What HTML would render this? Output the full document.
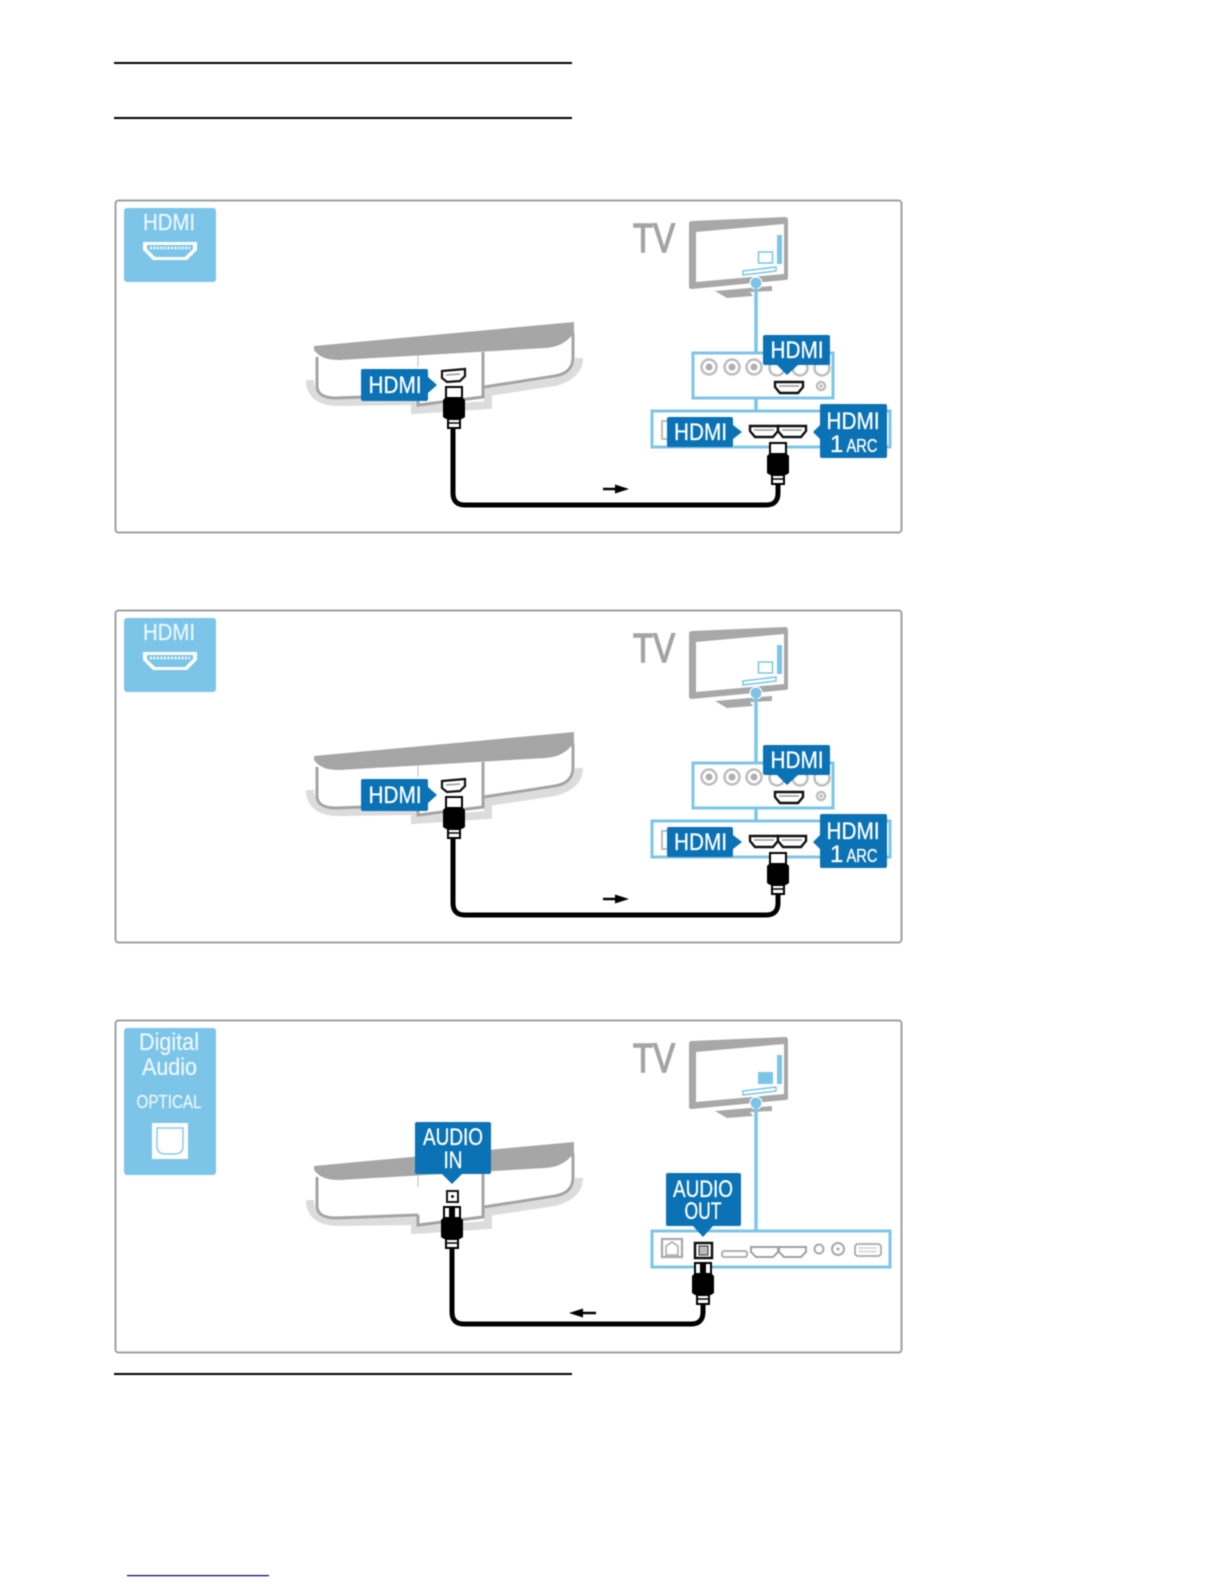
<!DOCTYPE html>
<html><head><meta charset="utf-8"><style>
html,body{margin:0;padding:0;background:#fff;width:1224px;height:1584px;overflow:hidden}
svg{display:block;filter:blur(.6px)}
text{font-family:"Liberation Sans",sans-serif;text-anchor:middle}
.w{fill:#fff;stroke:#fff;stroke-width:.3}.lw{fill:#eef8fd;stroke:#eef8fd;stroke-width:.2}
.tv{fill:#a4a4a4;stroke:#a4a4a4;stroke-width:1.4}
</style></head><body>
<svg width="1224" height="1584" viewBox="0 0 1224 1584" xmlns="http://www.w3.org/2000/svg">
<defs>
<g id="tvbase">
<path d="M689 224Q689 221 692 221L785 217Q788 217 788 220V278Q788 280 785 280L692 289Q689 289 689 287Z" fill="#a8a8a8"/>
<path d="M696 232L784 224V274L696 282Z" fill="#fff"/>
<path d="M715 291L772 286V291L750 292L753 296L727 298Z" fill="#a8a8a8"/>
<rect x="777" y="235" width="5" height="29" fill="#7cc5e9"/>
<path d="M743 271L776 267V271L743 275Z" fill="#fff" stroke="#7cc5e9" stroke-width="1.5"/>
<circle cx="756" cy="283" r="6" fill="#7cc5e9" stroke="#fff" stroke-width="1.2"/>
</g>
<g id="bar">
<path d="M310 380C310 396 322 402 340 402L415 401V410L488 405V392L555 382C570 378 579 370 579 358" fill="none" stroke="#dcdcdc" stroke-width="8"/>
<path d="M317 357V386C317 394 324 398 336 398L418 394V405L483 397V352Z" fill="#fff"/>
<path d="M483 352L573 333V358C573 368 566 374 555 376L484 387Z" fill="#fff"/>
<path d="M317 357V386C317 394 324 398 336 398L418 395M418 395V405L483 397V352M484 387L555 376C566 374 573 368 573 358V333" fill="none" stroke="#a4a4a4" stroke-width="3"/>
<path d="M418 355V367" stroke="#bbb" stroke-width="1" fill="none"/>
<path d="M314 346L574 322V333C566 343 558 347 545 348L340 360C328 360 320 358 314 350Z" fill="#a6a6a6"/>
</g>
<g id="plug">
<rect x="-8" y="0" width="16" height="11" fill="#fff" stroke="#000" stroke-width="2"/>
<path d="M-9 11H9L11 13V30L8 32H-8L-11 30V13Z" fill="#000"/>
<path d="M-6 32H6V41H-6Z" fill="#fff" stroke="#000" stroke-width="2"/>
<path d="M-6 36H6" stroke="#000" stroke-width="1.5"/>
</g>
<g id="port">
<path d="M-1 0H27V5L22 11H4L-1 5Z" fill="#fff" stroke="#111" stroke-width="2.4"/>
<path d="M3 4H23" stroke="#999" stroke-width="1.500"/>
</g>
<g id="hdmiicon">
<path d="M143 242H197V250L187 260H153L143 250Z" fill="#fff"/>
<path d="M147 245H193V249L185 257H155L147 249Z" fill="#7cc5e9"/>
<path d="M150 248H190" stroke="#fff" stroke-width="2.500" stroke-dasharray="2 1.500"/>
</g>
<g id="hdmipanels">
<path d="M756 288V353" stroke="#7cc5e9" stroke-width="3.500"/>
<rect x="693" y="353" width="140" height="45" fill="#fff" stroke="#7cc5e9" stroke-width="3"/>
<g fill="#fff" stroke="#bdbdbd" stroke-width="2.500">
<circle cx="709" cy="367" r="7.500"/><circle cx="732" cy="367" r="7.500"/><circle cx="754" cy="367" r="7.500"/>
<circle cx="777" cy="368" r="7.500"/><circle cx="800" cy="368" r="7.500"/><circle cx="822" cy="368" r="7.500"/>
<circle cx="821" cy="386" r="4"/>
</g>
<g fill="#b0b0b0"><circle cx="709" cy="367" r="3.500"/><circle cx="732" cy="367" r="3.500"/><circle cx="754" cy="367" r="3.500"/><circle cx="821" cy="386" r="1.500"/></g>
<path d="M756 398V411" stroke="#7cc5e9" stroke-width="3.500"/>
<rect x="652" y="411" width="238" height="36" fill="#fff" stroke="#7cc5e9" stroke-width="3"/>
<rect x="662" y="421" width="10" height="18" fill="#fff" stroke="#bdbdbd" stroke-width="2"/>
<use href="#port" x="776" y="382"/>
<use href="#port" x="751" y="426"/><use href="#port" x="779" y="426"/>
<path d="M765 335H828Q830 335 830 337V363Q830 365 828 365H798L787 375L777 365H765Q763 365 763 363V337Q763 335 765 335Z" fill="#0b72b5"/>
<path d="M669 417H731Q733 417 733 419V425L742 432L733 439V445Q733 447 731 447H669Q667 447 667 445V419Q667 417 669 417Z" fill="#0b72b5"/>
<path d="M822 404H885Q887 404 887 406V456Q887 458 885 458H822Q820 458 820 456V439L813 432L820 425V406Q820 404 822 404Z" fill="#0b72b5"/>
<path d="M361 371Q361 369 363 369H426Q428 369 428 371V377L437 385L428 393V399Q428 401 426 401H363Q361 401 361 399Z" fill="#0b72b5"/>
<path d="M442 371L465 369V376L460 381L447 382L442 378Z" fill="#fff" stroke="#111" stroke-width="2.200"/>
<path d="M446 375L460 374" stroke="#999" stroke-width="1.500"/>
<use href="#plug" x="454" y="387"/>
<use href="#plug" x="778" y="443"/>
<path d="M453 429V493Q453 505 465 505H766Q778 505 778 493V485" fill="none" stroke="#000" stroke-width="5"/>
<path d="M603 489H618" stroke="#000" stroke-width="2.500"/><path d="M615 484.500L629 489L615 493.500Z" fill="#000"/>
</g>
</defs>

<rect width="1224" height="1584" fill="#fff"/>
<rect x="114" y="62" width="458" height="2" fill="#000"/>
<rect x="114" y="117" width="458" height="2" fill="#000"/>
<rect x="114" y="1373" width="458" height="2" fill="#000"/>
<rect x="127" y="1575" width="142" height="1.200" fill="#000080"/>

<!-- Panel 1 -->
<rect x="115.500" y="200.500" width="786" height="332" rx="3" fill="#fff" stroke="#a0a0a0" stroke-width="2"/>
<rect x="124" y="208" width="92" height="74" rx="3" fill="#7cc5e9"/>
<text x="169" y="230" font-size="23" class="lw" textLength="52" lengthAdjust="spacingAndGlyphs">HDMI</text>
<use href="#hdmiicon"/>
<text x="654" y="252" font-size="41" class="tv" textLength="42" lengthAdjust="spacingAndGlyphs">TV</text>
<use href="#tvbase"/>
<rect x="758.500" y="252" width="14" height="11" fill="#fff" stroke="#7cc5e9" stroke-width="1.500"/>
<use href="#bar"/>
<use href="#hdmipanels"/>
<text x="395" y="393" font-size="24" class="w" textLength="53" lengthAdjust="spacingAndGlyphs">HDMI</text>
<text x="797" y="358" font-size="24" class="w" textLength="53" lengthAdjust="spacingAndGlyphs">HDMI</text>
<text x="700.500" y="440" font-size="24" class="w" textLength="53" lengthAdjust="spacingAndGlyphs">HDMI</text>
<text x="853" y="429" font-size="24" class="w" textLength="53" lengthAdjust="spacingAndGlyphs">HDMI</text>
<text x="830" y="452" font-size="24" class="w" style="text-anchor:start">1</text>
<text x="862" y="452" font-size="18" class="w" textLength="31" lengthAdjust="spacingAndGlyphs">ARC</text>

<!-- Panel 2 -->
<g transform="translate(0,410)">
<rect x="115.500" y="200.500" width="786" height="332" rx="3" fill="#fff" stroke="#a0a0a0" stroke-width="2"/>
<rect x="124" y="208" width="92" height="74" rx="3" fill="#7cc5e9"/>
<text x="169" y="230" font-size="23" class="lw" textLength="52" lengthAdjust="spacingAndGlyphs">HDMI</text>
<use href="#hdmiicon"/>
<text x="654" y="252" font-size="41" class="tv" textLength="42" lengthAdjust="spacingAndGlyphs">TV</text>
<use href="#tvbase"/>
<rect x="758.500" y="252" width="14" height="11" fill="#fff" stroke="#7cc5e9" stroke-width="1.500"/>
<use href="#bar"/>
<use href="#hdmipanels"/>
<text x="395" y="393" font-size="24" class="w" textLength="53" lengthAdjust="spacingAndGlyphs">HDMI</text>
<text x="797" y="358" font-size="24" class="w" textLength="53" lengthAdjust="spacingAndGlyphs">HDMI</text>
<text x="700.500" y="440" font-size="24" class="w" textLength="53" lengthAdjust="spacingAndGlyphs">HDMI</text>
<text x="853" y="429" font-size="24" class="w" textLength="53" lengthAdjust="spacingAndGlyphs">HDMI</text>
<text x="830" y="452" font-size="24" class="w" style="text-anchor:start">1</text>
<text x="862" y="452" font-size="18" class="w" textLength="31" lengthAdjust="spacingAndGlyphs">ARC</text>
</g>

<!-- Panel 3 -->
<rect x="115.500" y="1020.500" width="786" height="332" rx="3" fill="#fff" stroke="#a0a0a0" stroke-width="2"/>
<rect x="124" y="1028" width="92" height="147" rx="3" fill="#7cc5e9"/>
<text x="169" y="1050" font-size="24" class="lw" textLength="60" lengthAdjust="spacingAndGlyphs">Digital</text>
<text x="169.500" y="1075" font-size="24" class="lw" textLength="55" lengthAdjust="spacingAndGlyphs">Audio</text>
<text x="169" y="1108" font-size="18.500" class="lw" textLength="65" lengthAdjust="spacingAndGlyphs">OPTICAL</text>
<rect x="152" y="1123" width="36" height="36" fill="#fff"/>
<path d="M157 1128H183V1146Q183 1153 176 1154H164Q157 1153 157 1146Z" fill="#fff" stroke="#8ccbeb" stroke-width="1.500"/>
<g transform="translate(0,820)">
<text x="654" y="252" font-size="41" class="tv" textLength="42" lengthAdjust="spacingAndGlyphs">TV</text>
<use href="#tvbase"/>
<rect x="758" y="252" width="15" height="12" fill="#7cc5e9"/>
<use href="#bar"/>
</g>
<path d="M756 1108V1231" stroke="#7cc5e9" stroke-width="3.500"/>
<rect x="652" y="1231" width="238" height="36" fill="#fff" stroke="#7cc5e9" stroke-width="3"/>
<rect x="662" y="1239" width="20" height="18" fill="#fff" stroke="#a8a8a8" stroke-width="2.200"/>
<path d="M666 1255V1246L672 1242L678 1246V1255Z" fill="#fff" stroke="#a8a8a8" stroke-width="1.500"/>
<rect x="695" y="1243" width="17" height="15" fill="#fff" stroke="#111" stroke-width="2.500"/>
<rect x="699" y="1246" width="9" height="9" fill="#bbb" stroke="#333" stroke-width="1"/>
<rect x="722" y="1251" width="25" height="6" rx="2" fill="#fff" stroke="#a8a8a8" stroke-width="1.800"/>
<path d="M751 1247H778V1252L773 1257H756L751 1252Z" fill="#fff" stroke="#a0a0a0" stroke-width="2"/>
<path d="M779 1247H806V1252L801 1257H784L779 1252Z" fill="#fff" stroke="#a0a0a0" stroke-width="2"/>
<circle cx="819" cy="1249" r="4.500" fill="#fff" stroke="#a8a8a8" stroke-width="2"/>
<circle cx="838" cy="1249" r="6" fill="#fff" stroke="#a8a8a8" stroke-width="2"/>
<circle cx="838" cy="1249" r="1.500" fill="#a8a8a8"/>
<rect x="855" y="1244" width="26" height="12" rx="3" fill="#fff" stroke="#a8a8a8" stroke-width="1.800"/>
<path d="M859 1248H877M859 1251.500H877" stroke="#b5b5b5" stroke-width="1.500" stroke-dasharray="1.500 1"/>
<path d="M668 1173H739Q741 1173 741 1175V1224Q741 1226 739 1226H713L703 1237L693 1226H668Q666 1226 666 1224V1175Q666 1173 668 1173Z" fill="#0b72b5"/>
<path d="M417 1122H489Q491 1122 491 1124V1172Q491 1174 489 1174H462L452 1184L442 1174H417Q415 1174 415 1172V1124Q415 1122 417 1122Z" fill="#0b72b5"/>
<rect x="447" y="1191" width="11" height="11" fill="#fff" stroke="#111" stroke-width="2"/>
<circle cx="452.500" cy="1196.500" r="1.500" fill="#111"/>
<use href="#plug" x="452" y="1207"/>
<use href="#plug" x="703" y="1263"/>
<rect x="449" y="1208" width="6" height="9" fill="#000"/>
<rect x="700" y="1264" width="6" height="9" fill="#000"/>
<path d="M452 1249V1312Q452 1324 464 1324H691Q703 1324 703 1312V1304" fill="none" stroke="#000" stroke-width="5"/>
<path d="M596 1313H581" stroke="#000" stroke-width="2.500"/><path d="M583 1308.500L569 1313L583 1317.500Z" fill="#000"/>
<text x="453" y="1145" font-size="24" class="w" textLength="60" lengthAdjust="spacingAndGlyphs">AUDIO</text>
<text x="453" y="1168" font-size="24" class="w" textLength="19" lengthAdjust="spacingAndGlyphs">IN</text>
<text x="703" y="1197" font-size="24" class="w" textLength="60" lengthAdjust="spacingAndGlyphs">AUDIO</text>
<text x="703" y="1219" font-size="24" class="w" textLength="37" lengthAdjust="spacingAndGlyphs">OUT</text>
</svg>
</body></html>
